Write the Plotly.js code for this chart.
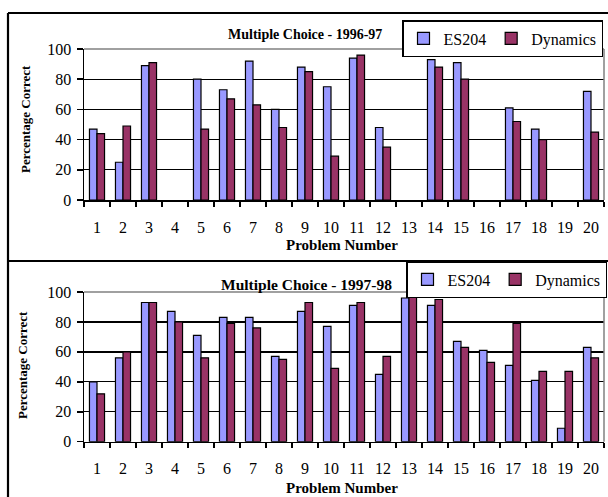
<!DOCTYPE html>
<html><head><meta charset="utf-8">
<script src="https://cdn.plot.ly/plotly-3.0.1.min.js"></script>
<style>html,body{margin:0;padding:0;background:#fff}#chart{width:608px;height:497px}</style>
</head><body><div id="chart"></div>
<script>
const problems = ['1','2','3','4','5','6','7','8','9','10','11','12','13','14','15','16','17','18','19','20'];
const es204_9697 = [47,25,89,null,80,73,92,60,88,75,94,48,null,93,91,null,61,47,null,72];
const dyn_9697   = [44,49,91,null,47,67,63,48,85,29,96,35,null,88,80,null,52,40,null,45];
const es204_9798 = [40,56,93,87,71,83,83,57,87,77,91,45,96,91,67,61,51,41,9,63];
const dyn_9798   = [32,60,93,80,56,79,76,55,93,49,93,57,97,95,63,53,79,47,47,56];
const titles = ['Multiple Choice - 1996-97','Multiple Choice - 1997-98'];
const seriesNames = ['ES204','Dynamics'];

const W=608,H=497;
const px=x=>x/W, py=y=>1-y/H;
const serif='"Liberation Serif", "Times New Roman", serif';
const colES='#9999FF', colDyn='#993366';

function bar(y, name, color, xa, ya, leg){
  return {type:'bar', x:problems, y:y, name:name, xaxis:xa, yaxis:ya, legend:leg,
    marker:{color:color, line:{color:'#000', width:1.2}}, hoverinfo:'x+y'};
}
const data=[
  bar(es204_9697, seriesNames[0], colES, 'x','y','legend'),
  bar(dyn_9697, seriesNames[1], colDyn, 'x','y','legend'),
  bar(es204_9798, seriesNames[0], colES, 'x2','y2','legend2'),
  bar(dyn_9798, seriesNames[1], colDyn, 'x2','y2','legend2'),
];
function xax(anchor, dom){
  return {domain:dom, anchor:anchor, type:'category', tickson:'boundaries', ticks:'outside', ticklen:5,
    tickwidth:1.5, tickcolor:'#000', showline:true, linecolor:'#000', linewidth:1.5, showgrid:false,
    tickangle:0, automargin:false,
    ticklabelstandoff:12, tickfont:{family:serif, size:16, color:'#000'}, fixedrange:true};
}
function yax(anchor, dom){
  return {domain:dom, anchor:anchor, range:[0,100], dtick:20, ticks:'outside', ticklen:6, tickwidth:1.5,
    tickcolor:'#000', showline:true, linecolor:'#000', linewidth:1.5, showgrid:true, gridcolor:'#000',
    automargin:false,
    gridwidth:1.3, zeroline:false, ticklabelstandoff:2, tickfont:{family:serif, size:16, color:'#000'}, fixedrange:true};
}
const xdom=[px(84), px(604)];
function leg(xr, yt, fs){
  return {orientation:'h', x:px(xr), y:py(yt), xanchor:'right', yanchor:'top', bgcolor:'#fff',
    bordercolor:'#000', borderwidth:1.5, itemwidth:30,
    font:{family:serif,size:fs,color:'#000'},
    itemclick:false, itemdoubleclick:false};
}
const layout={
  width:W, height:H, margin:{l:0,r:0,t:0,b:0}, paper_bgcolor:'#fff', plot_bgcolor:'#fff',
  bargap:0.42, bargroupgap:0, barmode:'group', showlegend:true,
  xaxis:xax('y', xdom), yaxis:yax('x',[py(200),py(49)]),
  xaxis2:xax('y2', xdom), yaxis2:yax('x2',[py(441.7),py(292)]),
  legend:leg(603, 20, 16),
  legend2:leg(607, 261, 16),
  shapes:[
    {type:'line', xref:'paper', yref:'paper', x0:px(84), x1:px(604), y0:py(49), y1:py(49), line:{color:'#808080', width:1.5}},
    {type:'line', xref:'paper', yref:'paper', x0:px(604), x1:px(604), y0:py(49), y1:py(200), line:{color:'#808080', width:1.5}},
    {type:'line', xref:'paper', yref:'paper', x0:px(84), x1:px(604), y0:py(292), y1:py(292), line:{color:'#808080', width:1.5}},
    {type:'line', xref:'paper', yref:'paper', x0:px(604), x1:px(604), y0:py(292), y1:py(441.7), line:{color:'#808080', width:1.5}},
    {type:'line', xref:'paper', yref:'paper', x0:px(8), x1:px(612), y0:py(13), y1:py(13), line:{color:'#000', width:2.2}},
    {type:'line', xref:'paper', yref:'paper', x0:px(8), x1:px(612), y0:py(261), y1:py(261), line:{color:'#000', width:2.2}},
    {type:'line', xref:'paper', yref:'paper', x0:px(8), x1:px(8), y0:py(13), y1:py(500), line:{color:'#000', width:2.2}},
  ],
  annotations:[
    {text:'<b>'+titles[0]+'</b>', y:py(34), x:px(305), font:{family:serif,size:14,color:'#000'}},
    {text:'<b>'+titles[1]+'</b>', y:py(284), x:px(306), font:{family:serif,size:15.5,color:'#000'}},
    {text:'<b>Problem Number</b>', x:px(342), y:py(245), font:{family:serif,size:15,color:'#000'}},
    {text:'<b>Problem Number</b>', x:px(342), y:py(488), font:{family:serif,size:15,color:'#000'}},
    {text:'<b>Percentage Correct</b>', x:px(25), y:py(119), textangle:-90, font:{family:serif,size:13,color:'#000'}},
    {text:'<b>Percentage Correct</b>', x:px(22), y:py(365), textangle:-90, font:{family:serif,size:13,color:'#000'}},
  ].map(a=>Object.assign({xref:'paper', yref:'paper', showarrow:false, xanchor:'center', yanchor:'middle'}, a))
};
Plotly.newPlot('chart', data, layout, {displayModeBar:false, staticPlot:true});
</script></body></html>
